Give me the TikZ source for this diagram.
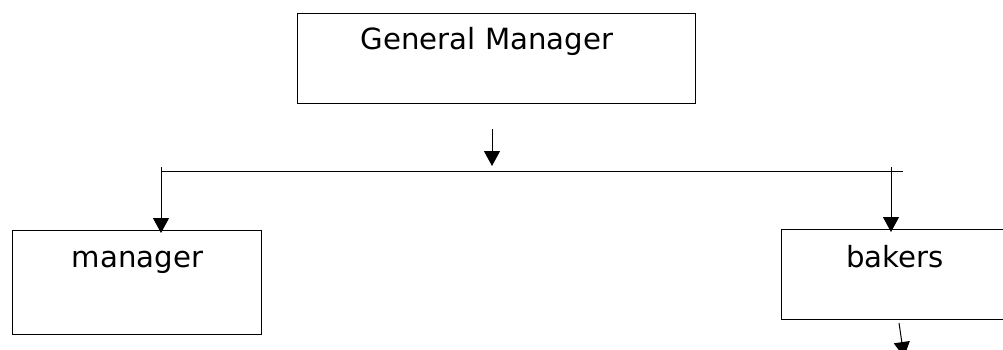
\documentclass[tikz,border=0pt]{standalone}
\usepackage{fontspec}
\setmainfont{DejaVu Sans}
\usetikzlibrary{arrows.meta}
\tikzset{
  box/.style={draw, line width=1pt, inner sep=0pt, anchor=north west},
  lbl/.style={font=\fontsize{29.2}{32}\selectfont, inner sep=0pt, anchor=base},
  link/.style={line width=1pt},
  arr/.style={line width=1pt, -{Triangle[width=16pt,length=15pt]}},
}
\begin{document}
\begin{tikzpicture}[x=1pt,y=-1pt]
\useasboundingbox (0,0) rectangle (1003,350);
\clip (0,0) rectangle (1003,350);

% boxes
\node[box, minimum width=398pt, minimum height=90pt] (gm) at (297,13) {};
\node[box, minimum width=249pt, minimum height=104pt] (mgr) at (12,230) {};
\node[box, minimum width=240pt, minimum height=90pt] (bak) at (781,229) {};

% labels
\node[lbl] (gmt) at (487,50) {General Manager};
\node[lbl] (mgrt) at (137.5,267) {manager};
\node[lbl] (bakt) at (895,267) {bakers};

% connector points
\coordinate (top) at (492,129);
\coordinate (topend) at (492,166);
\coordinate (busL) at (161,171);
\coordinate (busR) at (903,171);
\coordinate (dropL) at (161,167);
\coordinate (dropR) at (891,167);
\coordinate (outS) at (899,323);
\coordinate (outE) at (904,357);

% connectors
\draw[arr] (top) -- (topend);
\draw[link] (busL) -- (busR);
\draw[arr] (dropL) -- ([yshift=-3pt]dropL |- mgr.north);
\draw[arr] (dropR) -- ([yshift=-3pt]dropR |- bak.north);
\draw[arr] (outS) -- (outE);
\end{tikzpicture}
\end{document}
